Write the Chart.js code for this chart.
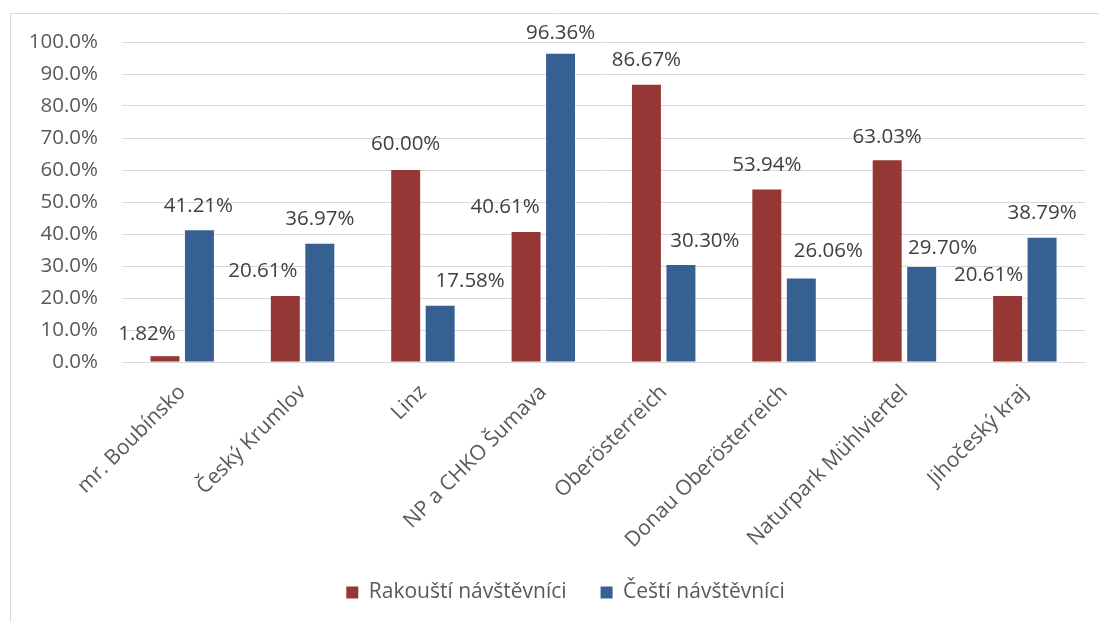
<!DOCTYPE html>
<html>
<head>
<meta charset="utf-8">
<script src="https://cdn.jsdelivr.net/npm/chart.js@4"></script>
<style>
  html, body { margin: 0; padding: 0; background: #ffffff; }
  #wrap { width: 1099px; height: 622px; position: relative; }
</style>
</head>
<body>
<div id="wrap"><canvas id="c" width="1099" height="622"></canvas></div>
<script>
// Categories and series values (percent)
const categories = [
  'mr. Boubínsko', 'Český Krumlov', 'Linz', 'NP a CHKO Šumava',
  'Oberösterreich', 'Donau Oberösterreich', 'Naturpark Mühlviertel', 'Jihočeský kraj'
];
const austrianVisitors = [1.82, 20.61, 60.00, 40.61, 86.67, 53.94, 63.03, 20.61];
const czechVisitors    = [41.21, 36.97, 17.58, 96.36, 30.30, 26.06, 29.70, 38.79];
const seriesNames = ['Rakouští návštěvníci', 'Čeští návštěvníci'];
const yTickValues = [0, 10, 20, 30, 40, 50, 60, 70, 80, 90, 100];

// Hand-placed label nudges (px) relative to the bar's top centre
const austrianLabelShift = [[-18, -22.5], [-22.5, -24.5], [0, -26], [-21, -25], [0, -24], [0, -24], [0, -23.5], [-19, -21]];
const czechLabelShift    = [[-1, -23.5], [0, -25], [30, -24.5], [0, -20], [24, -24], [27, -27], [21, -19], [0, -25]];

const FONT = 'Open Sans';
const TEXT = '#595959';
const GRID = '#d9d9d9';

// Outer chart frame
const framePlugin = {
  id: 'frame',
  beforeDraw(chart) {
    const ctx = chart.ctx;
    ctx.save();
    ctx.strokeStyle = GRID;
    ctx.lineWidth = 1;
    ctx.beginPath();
    ctx.moveTo(10.5, chart.height);
    ctx.lineTo(10.5, 13.5);
    ctx.lineTo(chart.width, 13.5);
    ctx.stroke();
    ctx.restore();
  }
};

// Centre the legend within the framed area rather than the canvas box
const legendOffset = {
  id: 'legendOffset',
  afterLayout(chart) {
    const lg = chart.legend;
    if (lg) { lg.left += 23; lg.right += 23; }
  }
};

// Value labels above each bar
const valueLabels = {
  id: 'valueLabels',
  afterDatasetsDraw(chart) {
    const ctx = chart.ctx;
    ctx.save();
    ctx.font = '20.5px "' + FONT + '"';
    ctx.fillStyle = '#404040';
    ctx.textAlign = 'center';
    ctx.textBaseline = 'middle';
    const shifts = [austrianLabelShift, czechLabelShift];
    chart.data.datasets.forEach((ds, di) => {
      const meta = chart.getDatasetMeta(di);
      meta.data.forEach((bar, i) => {
        const s = shifts[di][i];
        ctx.fillText(ds.data[i].toFixed(2) + '%', bar.x + s[0], bar.y + s[1]);
      });
    });
    ctx.restore();
  }
};

new Chart(document.getElementById('c'), {
  type: 'bar',
  data: {
    labels: categories,
    datasets: [
      {
        label: seriesNames[0],
        data: austrianVisitors,
        backgroundColor: '#953735',
        borderWidth: 0,
        categoryPercentage: 0.573,
        barPercentage: 0.84
      },
      {
        label: seriesNames[1],
        data: czechVisitors,
        backgroundColor: '#366092',
        borderWidth: 0,
        categoryPercentage: 0.573,
        barPercentage: 0.84
      }
    ]
  },
  options: {
    responsive: false,
    animation: false,
    devicePixelRatio: 1,
    layout: { padding: { top: 42, right: 14, bottom: 9, left: 0 } },
    plugins: {
      legend: {
        position: 'bottom',
        labels: {
          font: { family: FONT, size: 21 },
          color: TEXT,
          boxWidth: 12,
          boxHeight: 12,
          padding: 34
        }
      },
      tooltip: { enabled: false }
    },
    scales: {
      x: {
        grid: { display: false, drawTicks: false },
        border: { display: true, color: GRID, width: 1 },
        ticks: {
          font: { family: FONT, size: 21 },
          color: TEXT,
          maxRotation: 45,
          minRotation: 45,
          padding: 18,
          autoSkip: false
        },
        afterFit(scale) { scale.height = 186; }
      },
      y: {
        min: 0,
        max: 100,
        afterBuildTicks(scale) { scale.ticks = yTickValues.map(v => ({ value: v })); },
        grid: { color: GRID, lineWidth: 1, drawTicks: false },
        border: { display: false },
        ticks: {
          font: { family: FONT, size: 20.5 },
          color: TEXT,
          padding: 24,
          callback: v => v.toFixed(1) + '%'
        },
        afterFit(scale) { scale.width = 122; }
      }
    }
  },
  plugins: [framePlugin, legendOffset, valueLabels]
});
</script>
</body>
</html>
